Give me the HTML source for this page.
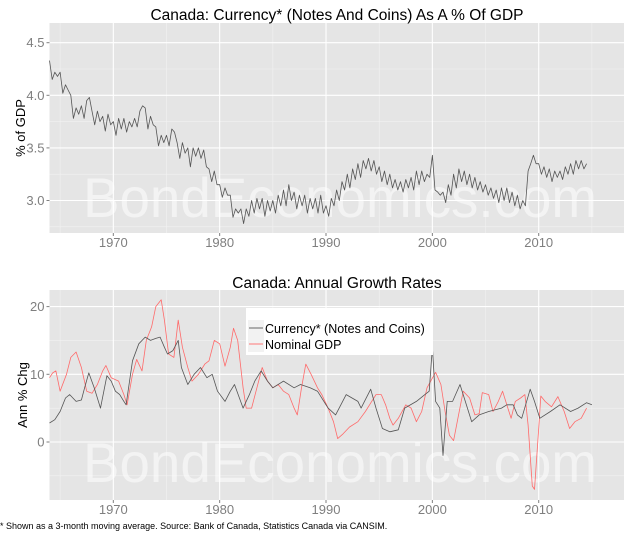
<!DOCTYPE html>
<html><head><meta charset="utf-8"><style>
body{margin:0;background:#fff;}
svg{display:block;font-family:"Liberation Sans",Arial,sans-serif;}
</style></head><body>
<svg id="chart" width="640" height="533" viewBox="0 0 640 533" xmlns="http://www.w3.org/2000/svg"></svg>
<script>
// ---- Top panel data (quarterly, starting 1964.0) ----
const ratioStart = 1964.0;
const ratioValues = [
4.33,4.15,4.22,4.18, 4.22,4.02,4.10,4.05, 4.00,3.78,3.88,3.82, 3.90,3.78,3.95,3.98,
3.85,3.72,3.85,3.75, 3.80,3.66,3.82,3.72, 3.75,3.62,3.78,3.68, 3.78,3.65,3.75,3.70,
3.78,3.70,3.85,3.90, 3.88,3.68,3.80,3.72, 3.70,3.52,3.62,3.55, 3.62,3.52,3.68,3.65,
3.55,3.40,3.55,3.45, 3.50,3.32,3.50,3.42, 3.50,3.40,3.48,3.32, 3.30,3.18,3.28,3.15,
3.15,3.03,3.12,3.05, 3.05,2.84,2.92,2.88, 2.92,2.78,2.92,2.85, 3.00,2.88,3.02,2.92,
3.02,2.85,3.00,2.90, 3.00,2.88,3.05,2.95, 3.10,2.95,3.15,3.00, 3.08,2.92,3.05,2.95,
3.05,2.88,3.02,2.92, 3.02,2.88,3.05,2.88, 2.95,2.85,3.02,2.95, 3.10,3.00,3.18,3.10,
3.25,3.12,3.30,3.20, 3.35,3.22,3.38,3.30, 3.40,3.28,3.38,3.25, 3.32,3.18,3.28,3.15,
3.25,3.12,3.20,3.10, 3.18,3.08,3.20,3.12, 3.22,3.10,3.28,3.15, 3.28,3.18,3.25,3.22,
3.43,3.10,3.08,3.05, 3.08,2.98,3.15,3.05, 3.25,3.12,3.30,3.18, 3.28,3.15,3.25,3.12,
3.22,3.10,3.18,3.08, 3.15,3.05,3.12,3.02, 3.10,2.98,3.12,3.00, 3.12,2.98,3.08,2.95,
3.05,2.92,3.00,2.95, 3.28,3.35,3.43,3.35, 3.35,3.25,3.32,3.22, 3.30,3.18,3.28,3.22,
3.28,3.20,3.32,3.25, 3.35,3.25,3.38,3.30, 3.38,3.30,3.35];
const topYTicks = [3.0, 3.5, 4.0, 4.5];
const topYLabels = ["3.0","3.5","4.0","4.5"];
const xTicks = [1970, 1980, 1990, 2000, 2010];
const xLabels = ["1970","1980","1990","2000","2010"];

// ---- Bottom panel data ----
const currDates = [1964.0,1964.5,1965.0,1965.5,1965.9,1966.5,1967.0,1967.3,1967.7,1968.2,1968.8,1969.4,1969.8,1970.2,1970.6,1971.0,1971.2,1971.8,1972.4,1973.0,1973.5,1974.0,1974.4,1974.8,1975.1,1975.6,1976.1,1976.4,1977.0,1977.6,1978.2,1978.8,1979.3,1979.8,1980.5,1981.0,1981.4,1982.2,1982.8,1983.3,1983.9,1984.5,1985.0,1986.0,1987.0,1987.6,1988.5,1989.2,1990.2,1990.9,1991.9,1993.0,1993.3,1994.2,1994.7,1995.3,1996.0,1996.8,1997.4,1998.5,1999.3,1999.7,2000.0,2000.3,2000.7,2001.0,2001.4,2001.9,2002.6,2003.1,2003.7,2004.4,2005.3,2006.5,2007.0,2007.6,2008.0,2008.4,2009.2,2009.6,2010.1,2011.1,2012.0,2013.0,2013.7,2014.5,2015.0];
const currValues = [2.8,3.3,4.5,6.5,7.0,6.0,6.2,8.0,10.2,8.0,5.0,9.8,9.0,7.5,7.0,6.0,5.5,12.0,14.5,15.5,15.0,15.3,15.5,14.0,13.0,13.5,15.0,11.0,8.5,10.0,11.0,9.5,10.0,7.5,6.0,7.5,8.5,5.0,7.0,9.0,10.5,9.0,8.0,9.0,8.0,8.5,8.0,7.5,5.0,4.0,7.0,6.0,5.0,7.8,5.0,2.0,1.5,1.8,5.0,6.0,7.0,7.5,14.0,6.0,5.0,-2.0,6.0,6.0,8.5,6.0,3.0,4.0,4.5,5.0,5.5,5.5,4.0,3.5,7.8,6.0,3.5,4.5,5.5,4.5,5.0,5.8,5.5];
const gdpDates = [1964.0,1964.3,1964.6,1965.0,1965.6,1966.0,1966.5,1967.0,1967.5,1968.0,1968.5,1969.0,1969.3,1969.8,1970.5,1971.0,1971.3,1971.8,1972.2,1972.7,1973.1,1973.6,1974.0,1974.5,1974.8,1975.2,1975.7,1976.1,1976.5,1977.0,1977.4,1978.0,1978.6,1979.0,1979.5,1980.0,1980.5,1981.0,1981.3,1981.7,1982.2,1982.5,1983.0,1983.5,1984.0,1984.5,1985.0,1985.5,1986.0,1986.5,1987.0,1987.3,1987.7,1988.1,1988.6,1989.2,1989.6,1990.2,1990.7,1991.1,1991.6,1992.2,1993.0,1993.7,1994.3,1994.7,1995.2,1995.6,1996.0,1996.3,1996.8,1997.5,1998.0,1998.5,1999.0,1999.5,2000.3,2000.8,2001.2,2001.6,2002.0,2002.4,2002.9,2003.5,2004.0,2004.4,2004.7,2005.3,2005.7,2006.2,2006.6,2007.0,2007.4,2007.8,2008.3,2008.7,2009.0,2009.4,2009.6,2010.0,2010.2,2010.6,2011.2,2011.8,2012.4,2012.9,2013.4,2014.0,2014.5];
const gdpValues = [9.5,10.2,10.5,7.5,10.0,12.5,13.3,11.0,7.5,7.2,8.5,10.5,11.3,9.5,9.0,7.0,5.5,10.0,12.2,10.5,15.0,17.0,20.0,21.0,18.0,13.0,12.5,18.0,14.0,11.0,9.0,10.0,11.5,12.0,15.0,14.5,11.2,14.0,16.8,15.0,8.0,5.0,5.0,8.0,11.0,9.0,8.0,8.5,7.5,7.0,5.0,4.0,8.0,11.5,10.0,8.0,7.0,5.0,3.0,0.5,1.2,2.2,3.0,4.5,6.0,7.0,7.0,5.5,3.5,2.5,3.5,5.5,5.0,3.0,4.5,8.0,10.3,8.5,4.5,1.0,0.2,3.5,7.5,6.5,4.0,4.2,7.3,7.0,4.5,6.0,7.5,5.5,3.5,6.0,6.5,7.0,2.5,-6.5,-7.0,2.0,6.8,6.0,5.2,6.7,4.5,2.0,3.0,3.5,5.0];
const botYTicks = [0, 10, 20];
const botYLabels = ["0","10","20"];
const legendLabels = ["Currency* (Notes and Coins)","Nominal GDP"];

const NS = "http://www.w3.org/2000/svg";
const svg = document.getElementById('chart');
function mk(tag, attrs, parent){const e=document.createElementNS(NS,tag);for(const k in attrs)e.setAttribute(k,attrs[k]);(parent||svg).appendChild(e);return e;}

const PL=49.5, PR=624, X0=1964, X1=1964+(624-49.5)/10.635;
function xs(v){return PL+(v-X0)/(X1-X0)*(PR-PL);}
// top y scale: 4.5 -> 42.7, 4.0 -> 95.3
function ysTop(v){return 95.3-(v-4.0)*(52.6/0.5);}
// bottom: 0 -> 442, 10 -> 374.3
function ysBot(v){return 442-v*6.77;}

function panel(name, top, bottom, ys, yTicks, yLabels, ymin, ymax, minorStep){
  const g=mk('g',{});
  
  
  const bg=mk('rect',{x:PL,y:top,width:PR-PL,height:bottom-top,fill:'#e5e5e5'},g);
  
  
  // minor grid
  for(let yr=1965;yr<X1;yr+=10){const l=mk('line',{x1:xs(yr),x2:xs(yr),y1:top,y2:bottom,stroke:'#f2f2f2','stroke-width':0.6},g);
    }
  for(let v=yTicks[0]-minorStep;v<=ymax;v+=minorStep*2){if(v<ymin)continue;const l=mk('line',{x1:PL,x2:PR,y1:ys(v),y2:ys(v),stroke:'#f2f2f2','stroke-width':0.6},g);
    }
  // major grid
  xTicks.forEach((t,i)=>{const l=mk('line',{x1:xs(t),x2:xs(t),y1:top,y2:bottom,stroke:'#fff','stroke-width':1.1},g);
    
    const tk=mk('line',{x1:xs(t),x2:xs(t),y1:bottom,y2:bottom+3,stroke:'#7f7f7f','stroke-width':1},g);
    
    const tx=mk('text',{x:xs(t),y:bottom+14,'text-anchor':'middle','font-size':13,fill:'#7f7f7f'},g);
    tx.textContent=xLabels[i];
    });
  yTicks.forEach((t,i)=>{const l=mk('line',{x1:PL,x2:PR,y1:ys(t),y2:ys(t),stroke:'#fff','stroke-width':1.1},g);
    
    const tk=mk('line',{x1:PL-3,x2:PL,y1:ys(t),y2:ys(t),stroke:'#7f7f7f','stroke-width':1},g);
    
    const tx=mk('text',{x:PL-5,y:ys(t)+4.5,'text-anchor':'end','font-size':13,fill:'#7f7f7f'},g);
    tx.textContent=yLabels[i];
    });
  return g;
}
function watermark(baseline){
  const t=mk('text',{x:83,y:baseline,'font-size':56,fill:'#ffffff','fill-opacity':0.55,textLength:514,lengthAdjust:'spacingAndGlyphs'});
  t.textContent='BondEconomics.com';
  
  
}
function line(xsArr, ysArr, ys, color, name){
  let d='';xsArr.forEach((x,i)=>{d+=(i?'L':'M')+xs(x).toFixed(1)+','+ys(ysArr[i]).toFixed(1);});
  const p=mk('path',{d:d,fill:'none',stroke:color,'stroke-width':0.8,'stroke-linejoin':'round'});
  
  
}

// TOP PANEL
panel('top-panel',23,233,ysTop,topYTicks,topYLabels,2.68,4.67,0.25);
watermark(217);
const ratioDates = ratioValues.map((v,i)=>ratioStart+i*0.25);
line(ratioDates, ratioValues, ysTop, '#555', 'currency-ratio-line');
let t1=mk('text',{x:337,y:20,'text-anchor':'middle','font-size':15.5,fill:'#000'});
t1.textContent='Canada: Currency* (Notes And Coins) As A % Of GDP';

let a1=mk('text',{x:0,y:0,'text-anchor':'middle','font-size':13,fill:'#000',transform:'translate(25,128) rotate(-90)'});
a1.textContent='% of GDP';


// BOTTOM PANEL
panel('bottom-panel',290,500,ysBot,botYTicks,botYLabels,-8.5,21.2,5);
watermark(482);
line(gdpDates, gdpValues, ysBot, '#ff6a6a', 'nominal-gdp-line');
line(currDates, currValues, ysBot, '#555', 'currency-growth-line');
let t2=mk('text',{x:337,y:288,'text-anchor':'middle','font-size':15.5,fill:'#000'});
t2.textContent='Canada: Annual Growth Rates';

let a2=mk('text',{x:0,y:0,'text-anchor':'middle','font-size':13,fill:'#000',transform:'translate(27,395) rotate(-90)'});
a2.textContent='Ann % Chg';


// legend
const lg=mk('g',{});

const lb=mk('rect',{x:246,y:308,width:187,height:47,fill:'#fff'},lg);

const lcolors=['#555','#ff6a6a'];
legendLabels.forEach((lab,i)=>{
  const y=333+i*16;
  const kb=mk('rect',{x:248,y:y-13,width:16,height:16,fill:'#f2f2f2'},lg);
  
  const kl=mk('line',{x1:249,x2:263,y1:y-5,y2:y-5,stroke:lcolors[i],'stroke-width':0.9},lg);
  
  const tx=mk('text',{x:265,y:y,'font-size':12.5,fill:'#000'},lg);
  tx.textContent=lab;
  
});

// caption
const cap=mk('text',{x:0,y:529,'font-size':9,fill:'#000'});
cap.textContent='* Shown as a 3-month moving average. Source: Bank of Canada, Statistics Canada via CANSIM.';

</script>
</body></html>
